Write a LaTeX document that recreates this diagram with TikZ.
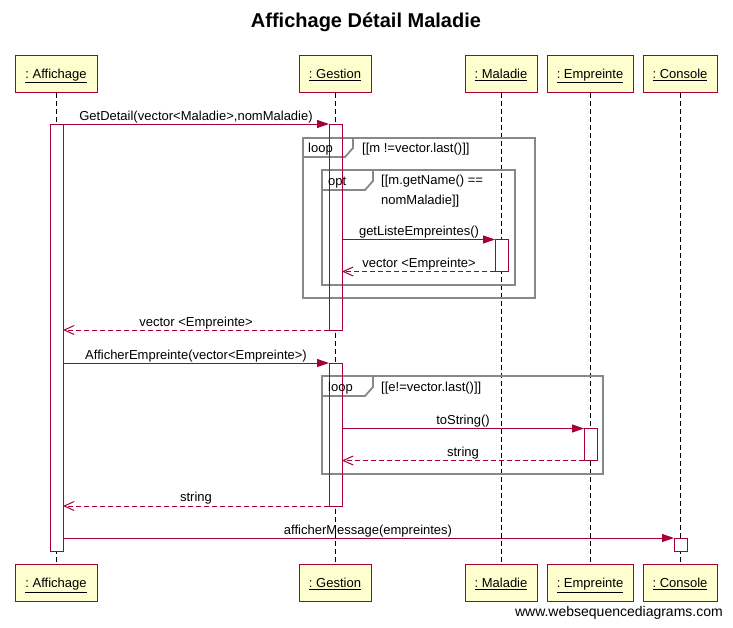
\documentclass[tikz,border=0pt]{standalone}
\usepackage{fontspec}
\setmainfont{Liberation Sans}
\usetikzlibrary{arrows.meta}
\definecolor{wsdred}{RGB}{168,0,54}
\definecolor{wsdfill}{RGB}{254,254,206}
\definecolor{framegray}{RGB}{136,136,136}
\tikzset{
  head/.style={draw=wsdred, fill=wsdfill, line width=1pt, minimum height=37pt, inner sep=0pt, text height=12pt, text depth=2.4pt, font=\fontsize{13}{15}\selectfont},
  life/.style={draw=black, line width=1pt, dash pattern=on 5pt off 3pt},
  actbox/.style={draw=wsdred, fill=white, line width=1pt, minimum width=13pt, inner sep=0pt, outer sep=0pt, anchor=north},
  msg/.style={draw=wsdred, line width=1pt, -{Triangle[length=12pt,width=8pt]}},
  ret/.style={draw=wsdred, line width=1pt, dash pattern=on 5pt off 3pt, -{Straight Barb[length=10pt,width=9pt,line width=1pt]}},
  lbl/.style={font=\fontsize{13}{15}\selectfont, inner sep=0pt, anchor=base},
  frm/.style={draw=framegray, line width=1.8pt},
  frmtxt/.style={font=\fontsize{13}{15}\selectfont, inner sep=0pt, anchor=base west},
}
\begin{document}
\begin{tikzpicture}[x=1pt,y=-1pt]
\useasboundingbox (0,0) rectangle (733,627);
% title
\node[font=\bfseries\fontsize{20}{23}\selectfont] (title) at (366,22) {Affichage Détail Maladie};
% heads
\node[head, minimum width=82pt] (hA) at (56,73.5) {\underline{:\ Affichage}};
\node[head, minimum width=72pt] (hG) at (335,73.5) {\underline{:\ Gestion}};
\node[head, minimum width=72pt] (hM) at (501,73.5) {\underline{:\ Maladie}};
\node[head, minimum width=86pt] (hE) at (590,73.5) {\underline{:\ Empreinte}};
\node[head, minimum width=74pt] (hC) at (680,73.5) {\underline{:\ Console}};
\node[head, minimum width=82pt] (fA) at (56,583) {\underline{:\ Affichage}};
\node[head, minimum width=72pt] (fG) at (335,583) {\underline{:\ Gestion}};
\node[head, minimum width=72pt] (fM) at (501,583) {\underline{:\ Maladie}};
\node[head, minimum width=86pt] (fE) at (590,583) {\underline{:\ Empreinte}};
\node[head, minimum width=74pt] (fC) at (680,583) {\underline{:\ Console}};
% lifelines
\draw[life] (hA.south) -- (fA.north);
\draw[life] (hG.south) -- (fG.north);
\draw[life] (hM.south) -- (fM.north);
\draw[life] (hE.south) -- (fE.north);
\draw[life] (hC.south) -- (fC.north);
% activations
\node[actbox, minimum height=427pt] (aA) at (56.5,124) {};
\node[actbox, minimum height=206pt] (aG1) at (335.5,124) {};
\node[actbox, minimum height=32pt] (aM) at (501.5,239.5) {};
\node[actbox, minimum height=143pt] (aG2) at (335.5,363) {};
\node[actbox, minimum height=32pt] (aE) at (590.5,428.5) {};
\node[actbox, minimum height=13pt] (aC) at (680.5,538) {};
% frames
\draw[frm] (303,138) rectangle (535,298);
\draw[frm] (303,157) -- (345,157) -- (353,148) -- (353,138);
\draw[frm] (322,170) rectangle (515,285);
\draw[frm] (322,190) -- (365,190) -- (373,181) -- (373,170);
\draw[frm] (322,376) rectangle (603,474);
\draw[frm] (322,396) -- (365,396) -- (373,387) -- (373,376);
% activation outlines over frames
\foreach \n in {aA,aG1,aM,aG2,aE,aC}{\draw[draw=wsdred,line width=1pt] (\n.south west) rectangle (\n.north east);}
% frame texts
\node[frmtxt] (t1) at (308,152) {loop};
\node[frmtxt] (c1) at (362,152) {[[m !=vector.last()]]};
\node[frmtxt] (t2) at (328,185) {opt};
\node[frmtxt] (c2) at (381,184) {[[m.getName() ==};
\node[frmtxt] (c3) at (381,204) {nomMaladie]]};
\node[frmtxt] (t3) at (328,391) {loop};
\node[frmtxt] (c4) at (381,391) {[[e!=vector.last()]]};
% messages
\coordinate (m1s) at (aA.east |- 0,124);
\coordinate (m1e) at (aG1.west |- 0,124);
\draw[msg] (m1s) -- (m1e);
\node[lbl] (l1) at (196,120) {GetDetail(vector<Maladie>,nomMaladie)};
\coordinate (m2s) at (aG1.east |- 0,239.5);
\coordinate (m2e) at (aM.west |- 0,239.5);
\draw[msg] (m2s) -- (m2e);
\node[lbl] (l2) at (419,235) {getListeEmpreintes()};
\coordinate (m3s) at (aM.west |- 0,271.5);
\coordinate (m3e) at (aG1.east |- 0,271.5);
\draw[ret] (m3s) -- (m3e);
\node[lbl] (l3) at (419,267) {vector <Empreinte>};
\coordinate (m4s) at (aG1.west |- 0,330);
\coordinate (m4e) at (aA.east |- 0,330);
\draw[ret] (m4s) -- (m4e);
\node[lbl] (l4) at (196,326) {vector <Empreinte>};
\coordinate (m5s) at (aA.east |- 0,363);
\coordinate (m5e) at (aG2.west |- 0,363);
\draw[msg] (m5s) -- (m5e);
\node[lbl] (l5) at (196,359) {AfficherEmpreinte(vector<Empreinte>)};
\coordinate (m6s) at (aG2.east |- 0,428.5);
\coordinate (m6e) at (aE.west |- 0,428.5);
\draw[msg] (m6s) -- (m6e);
\node[lbl] (l6) at (463,424) {toString()};
\coordinate (m7s) at (aE.west |- 0,460.5);
\coordinate (m7e) at (aG2.east |- 0,460.5);
\draw[ret] (m7s) -- (m7e);
\node[lbl] (l7) at (463,456) {string};
\coordinate (m8s) at (aG2.west |- 0,506);
\coordinate (m8e) at (aA.east |- 0,506);
\draw[ret] (m8s) -- (m8e);
\node[lbl] (l8) at (196,501) {string};
\coordinate (m9s) at (aA.east |- 0,538);
\coordinate (m9e) at (aC.west |- 0,538);
\draw[msg] (m9s) -- (m9e);
\node[lbl] (l9) at (368,534) {afficherMessage(empreintes)};
% watermark
\node[font=\fontsize{14}{16}\selectfont, inner sep=0pt, anchor=base east] (wm) at (723,616) {www.websequencediagrams.com};
\end{tikzpicture}
\end{document}
